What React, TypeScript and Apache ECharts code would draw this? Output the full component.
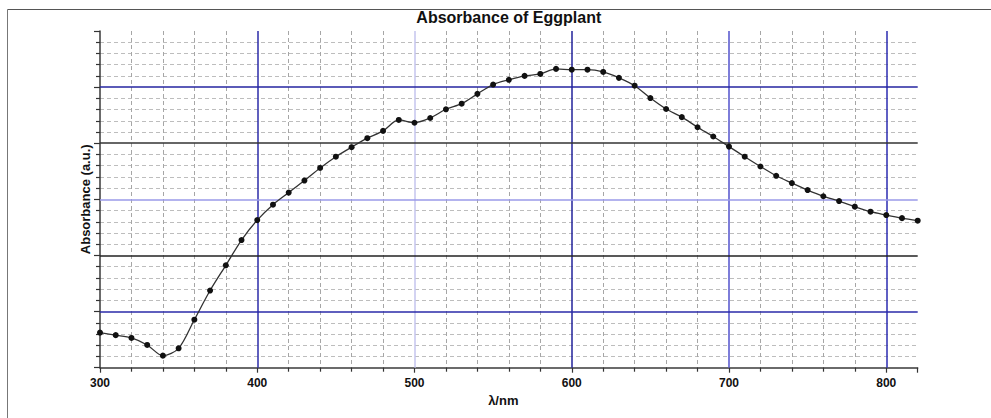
import React, { useEffect, useRef } from 'react';
import * as echarts from 'echarts';

const chartTitle = 'Absorbance of Eggplant';
const xName = 'λ/nm';
const yName = 'Absorbance (a.u.)';

const wavelengths = [
  300, 310, 320, 330, 340, 350, 360, 370, 380, 390,
  400, 410, 420, 430, 440, 450, 460, 470, 480, 490,
  500, 510, 520, 530, 540, 550, 560, 570, 580, 590,
  600, 610, 620, 630, 640, 650, 660, 670, 680, 690,
  700, 710, 720, 730, 740, 750, 760, 770, 780, 790,
  800, 810, 820,
];
const absorbance = [
  0.125, 0.116, 0.106, 0.081, 0.043, 0.069, 0.171, 0.275, 0.365, 0.455,
  0.526, 0.581, 0.624, 0.667, 0.712, 0.752, 0.786, 0.818, 0.844, 0.883,
  0.873, 0.890, 0.921, 0.941, 0.976, 1.009, 1.026, 1.040, 1.047, 1.065,
  1.062, 1.062, 1.054, 1.033, 1.005, 0.961, 0.922, 0.893, 0.857, 0.824,
  0.788, 0.752, 0.717, 0.684, 0.658, 0.633, 0.611, 0.594, 0.574, 0.556,
  0.544, 0.533, 0.524,
];

const xGridValues = [400, 500, 600, 700, 800];
const xGridColors = ['#2b2ba8', '#c4c4ee', '#22229a', '#5252cc', '#2b2bb0'];
const yGridValues = [0.2, 0.4, 0.6, 0.8, 1.0];
const yGridColors = ['#2a2aa8', '#222222', '#9a9ae8', '#333333', '#2424a0'];

const FONT = '"Liberation Sans", Arial, sans-serif';

export default function App() {
  const ref = useRef<HTMLDivElement>(null);

  useEffect(() => {
    if (!ref.current) return;
    const chart = echarts.init(ref.current, undefined, { renderer: 'svg' });
    const pts = wavelengths.map((w, i) => [w, absorbance[i]]);
    const markData: any[] = [];
    xGridValues.forEach((v, i) =>
      markData.push({ xAxis: v, lineStyle: { color: xGridColors[i], width: 1.5, type: 'solid' } })
    );
    yGridValues.forEach((v, i) =>
      markData.push({ yAxis: v, lineStyle: { color: yGridColors[i], width: 1.5, type: 'solid' } })
    );

    chart.setOption({
      animation: false,
      backgroundColor: '#ffffff',
      grid: { left: 100, right: 73.3, top: 31, bottom: 50.3, containLabel: false },
      xAxis: {
        type: 'value',
        min: 300,
        max: 820,
        interval: 100,
        axisLine: { show: true, onZero: false, lineStyle: { color: '#3a3a3a', width: 1.5 } },
        axisTick: { show: true, length: 5, lineStyle: { color: '#333', width: 1.2 } },
        minorTick: { show: true, splitNumber: 5, length: 4, lineStyle: { color: '#333', width: 1.2 } },
        splitLine: { show: false },
        minorSplitLine: { show: true, lineStyle: { color: '#a6a6a6', width: 1, type: [4, 3] } },
        axisLabel: {
          show: true,
          margin: 9,
          showMaxLabel: false,
          color: '#111',
          fontFamily: FONT,
          fontWeight: 'bold',
          fontSize: 12,
        },
      },
      yAxis: {
        type: 'value',
        min: 0,
        max: 1.2,
        interval: 0.2,
        axisLine: { show: true, onZero: false, lineStyle: { color: '#3a3a3a', width: 1.5 } },
        axisTick: { show: true, length: 6, lineStyle: { color: '#333', width: 1.2 } },
        minorTick: { show: true, splitNumber: 5, length: 4, lineStyle: { color: '#333', width: 1.2 } },
        splitLine: { show: false },
        minorSplitLine: { show: true, lineStyle: { color: '#bdbdbd', width: 1, type: [4, 3] } },
        axisLabel: { show: false },
      },
      series: [
        {
          type: 'line',
          data: [],
          silent: true,
          z: 1,
          markLine: {
            silent: true,
            symbol: ['none', 'none'],
            label: { show: false },
            animation: false,
            data: markData,
          },
        },
        {
          type: 'line',
          data: pts,
          z: 5,
          smooth: 0.3,
          symbol: 'circle',
          symbolSize: 6,
          showSymbol: true,
          lineStyle: { color: '#333333', width: 1.3 },
          itemStyle: { color: '#111111' },
        },
      ],
      graphic: [
        {
          type: 'line',
          shape: { x1: 7.5, y1: 9.5, x2: 991, y2: 9.5 },
          style: { stroke: '#555', lineWidth: 1 },
          silent: true,
        },
        {
          type: 'line',
          shape: { x1: 7.5, y1: 9.5, x2: 7.5, y2: 418 },
          style: { stroke: '#777', lineWidth: 1 },
          silent: true,
        },
        {
          type: 'text',
          x: 508.8,
          y: 17,
          style: {
            text: chartTitle,
            fill: '#111',
            font: `bold 16px ${FONT}`,
            textAlign: 'center',
            textVerticalAlign: 'middle',
          },
        },
        {
          type: 'text',
          x: 85,
          y: 199.3,
          rotation: Math.PI / 2,
          style: {
            text: yName,
            fill: '#111',
            font: `bold 13px ${FONT}`,
            textAlign: 'center',
            textVerticalAlign: 'middle',
          },
        },
        {
          type: 'text',
          x: 503.3,
          y: 400,
          style: {
            text: xName,
            fill: '#111',
            font: `bold 13px ${FONT}`,
            textAlign: 'center',
            textVerticalAlign: 'middle',
          },
        },
      ],
    });
    return () => chart.dispose();
  }, []);

  return (
    <div
      ref={ref}
      style={{ position: 'fixed', left: 0, top: 0, width: 991, height: 418, background: '#fff' }}
    />
  );
}
